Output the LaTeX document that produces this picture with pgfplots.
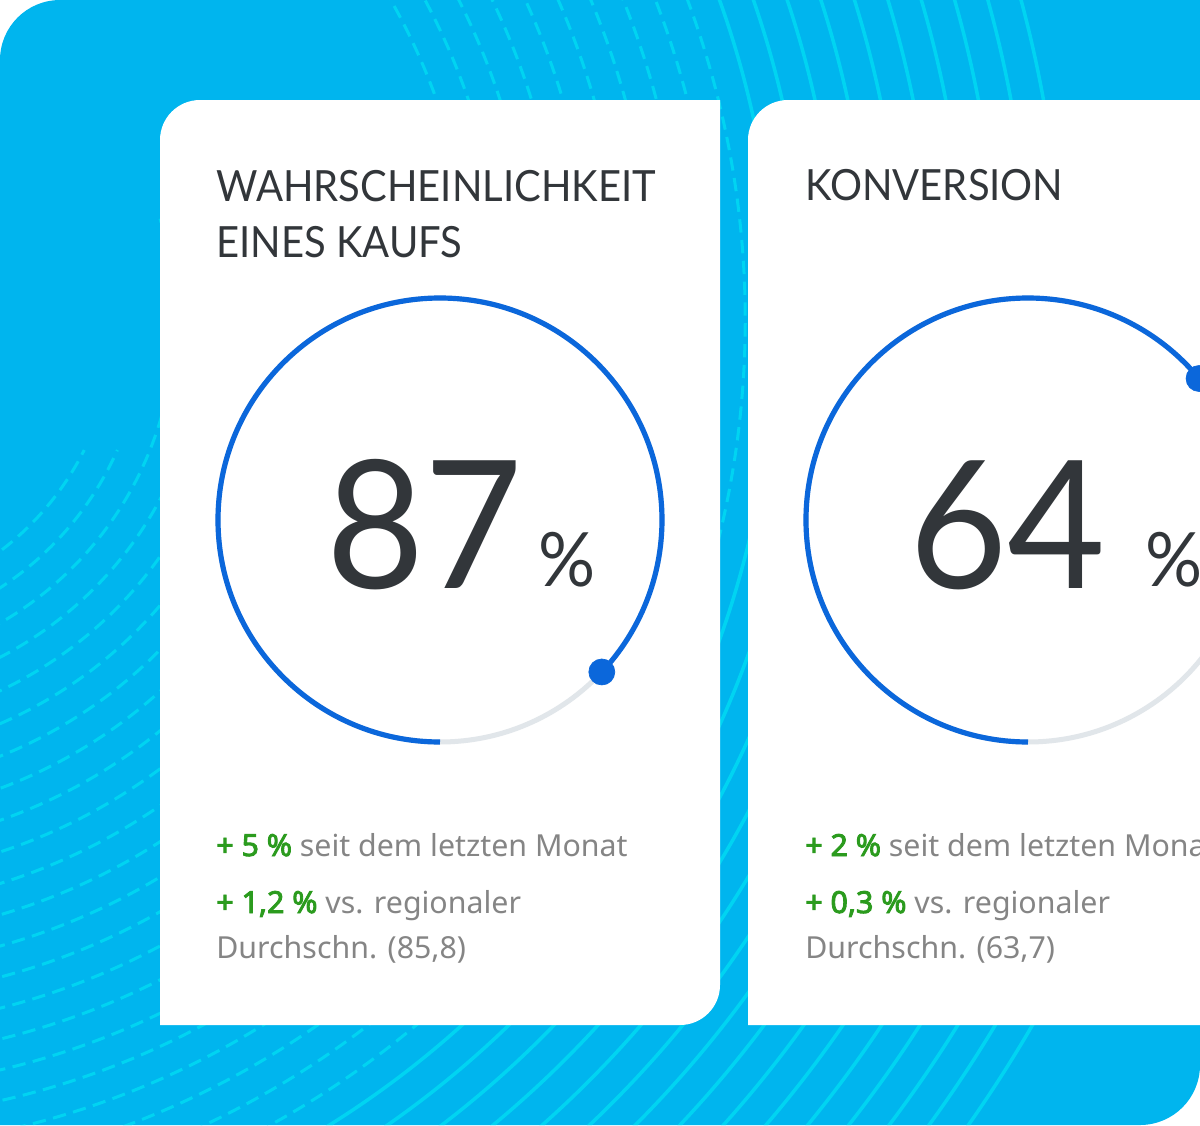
\documentclass[border=0pt]{standalone}
\usepackage{pgfplots}
\pgfplotsset{compat=1.18}
\usepackage{fontspec}
\setmainfont{Lato}
\newfontfamily\titlefont{Lato}[FakeStretch=0.93]
\newfontfamily\numfont{Lato}[FakeStretch=0.95]
\newfontfamily\bodyfont{Noto Sans}
\newfontfamily\bodybold{Noto Sans}[FakeBold=3]

\definecolor{bgblue}{HTML}{00B5EE}
\definecolor{bgline}{HTML}{00D4F2}
\definecolor{titletext}{HTML}{32363A}
\definecolor{upgreen}{HTML}{2B9B1E}
\definecolor{softgrey}{HTML}{858585}
\definecolor{arcblue}{HTML}{0B67DB}
\definecolor{trackgrey}{HTML}{E1E6EA}

% KPI values shown in the two gauges
\def\valA{87}
\def\valB{64}
\pgfmathsetmacro\dxA{cos(-90-3.6*\valA)}
\pgfmathsetmacro\dyA{sin(-90-3.6*\valA)}
\pgfmathsetmacro\dxB{cos(-90-3.6*\valB)}
\pgfmathsetmacro\dyB{sin(-90-3.6*\valB)}

\pgfplotsset{
  gauge/.style={
    anchor=center, scale only axis,
    width=266.4pt, height=266.4pt,
    xmin=-1, xmax=1, ymin=-1, ymax=1,
    hide axis, clip=false,
  },
}
\tikzset{
  track/.style={trackgrey, line width=3pt},
  prog/.style={arcblue, line width=3.1pt},
  dl/.style={bgline, line width=1.8pt, dash pattern=on 8pt off 4.5pt},
  sl/.style={bgline, line width=2.1pt},
}

\begin{document}
\begin{tikzpicture}[x=0.6pt,y=-0.6pt]
\clip (0,0) rectangle (1200,1125);

% backdrop with two rounded corners
\path[fill=bgblue, save path=\backdrop]
  (0,1125) -- (0,60) arc[start angle=180,end angle=270,radius=60]
  -- (1200,0) -- (1200,1065) arc[start angle=0,end angle=90,radius=60] -- cycle;

% concentric line pattern around a point left of the frame
\begin{scope}
  \clip[use path=\backdrop];
  \foreach \r in {290,320,...,920} {
    \ifdim\r pt<335pt
      \pgfmathsetmacro\ea{asin(130/\r)}
    \else\ifdim\r pt<650pt
      \pgfmathsetmacro\ea{-min(asin(200/\r),acos(335/\r))}
    \else
      \def\ea{-70}
    \fi\fi
    \draw[dl] (-175,320) ++(110:\r) arc[start angle=110,end angle=\ea,radius=\r];
  }
  \foreach \r in {950,982,...,1420} {
    \ifdim\r pt<1240pt
      \def\ea{-70}
    \else
      \pgfmathsetmacro\ea{-asin(220/\r)+1}
    \fi
    \draw[sl] (-175,320) ++(110:\r) arc[start angle=110,end angle=\ea,radius=\r];
  }
\end{scope}

% cards
\fill[white] (160,1025) -- (160,140) arc[start angle=180,end angle=270,radius=40]
  -- (720,100) -- (720,985) arc[start angle=0,end angle=90,radius=40] -- cycle;
\fill[white] (748,1025) -- (748,140) arc[start angle=180,end angle=270,radius=40]
  -- (1260,100) -- (1260,1025) -- cycle;

% card 1
\node[anchor=base west, inner sep=0, text=titletext, font=\titlefont\fontsize{25.8}{30}\selectfont]
  at (216,201) {WAHRSCHEINLICHKEIT};
\node[anchor=base west, inner sep=0, text=titletext, font=\titlefont\fontsize{25.8}{30}\selectfont]
  at (216,257) {EINES KAUFS};

\begin{axis}[gauge, at={(264pt,-312pt)}]
  \draw[track] (axis cs:0,0) circle[radius=1];
  \draw[prog] (axis cs:0,-1) arc[start angle=-90, end angle={-90-3.6*\valA}, radius=1];
  \addplot[only marks, mark=*, mark size=7.8pt, color=arcblue] coordinates {(\dxA,\dyA)};
\end{axis}

\node[anchor=base west, inner sep=0, text=titletext, font=\numfont\fontsize{107}{107}\selectfont]
  at (326,588) {87};
\node[anchor=base west, inner sep=0, text=titletext, font=\numfont\fontsize{45}{45}\selectfont]
  at (538,586) {\%};

\node[anchor=base west, inner sep=0, font=\bodyfont\fontsize{18.2}{20}\selectfont]
  at (216,856) {\textcolor{upgreen}{\bodybold + 5 \%} \textcolor{softgrey}{seit dem letzten Monat}};
\node[anchor=base west, inner sep=0, font=\bodyfont\fontsize{18.2}{20}\selectfont]
  at (216,913) {\textcolor{upgreen}{\bodybold + 1,2 \%} \textcolor{softgrey}{vs. regionaler}};
\node[anchor=base west, inner sep=0, font=\bodyfont\fontsize{18.2}{20}\selectfont, text=softgrey]
  at (216,958) {Durchschn. (85,8)};

% card 2
\node[anchor=base west, inner sep=0, text=titletext, font=\titlefont\fontsize{25.8}{30}\selectfont]
  at (805,200) {KONVERSION};

\begin{axis}[gauge, at={(616.8pt,-312pt)}]
  \draw[track] (axis cs:0,0) circle[radius=1];
  \draw[prog] (axis cs:0,-1) arc[start angle=-90, end angle={-90-3.6*\valB}, radius=1];
  \addplot[only marks, mark=*, mark size=7.8pt, color=arcblue] coordinates {(\dxB,\dyB)};
\end{axis}

\node[anchor=base west, inner sep=0, text=titletext, font=\numfont\fontsize{107}{107}\selectfont]
  at (909,588) {64};
\node[anchor=base west, inner sep=0, text=titletext, font=\numfont\fontsize{45}{45}\selectfont]
  at (1145,586) {\%};

\node[anchor=base west, inner sep=0, font=\bodyfont\fontsize{18.2}{20}\selectfont]
  at (805,856) {\textcolor{upgreen}{\bodybold + 2 \%} \textcolor{softgrey}{seit dem letzten Monat}};
\node[anchor=base west, inner sep=0, font=\bodyfont\fontsize{18.2}{20}\selectfont]
  at (805,913) {\textcolor{upgreen}{\bodybold + 0,3 \%} \textcolor{softgrey}{vs. regionaler}};
\node[anchor=base west, inner sep=0, font=\bodyfont\fontsize{18.2}{20}\selectfont, text=softgrey]
  at (805,958) {Durchschn. (63,7)};
\end{tikzpicture}
\end{document}
